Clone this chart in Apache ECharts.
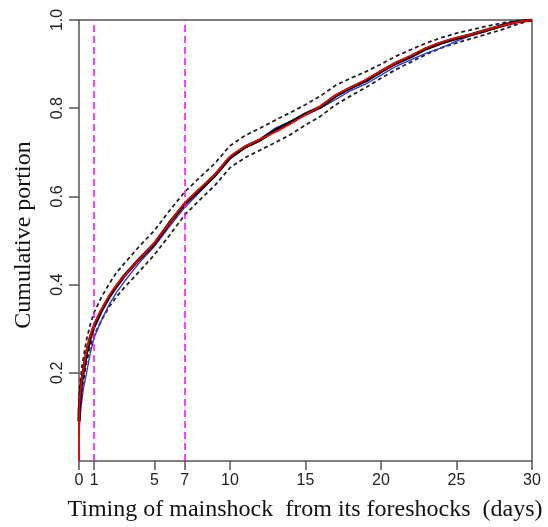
<!DOCTYPE html>
<html>
<head>
<meta charset="utf-8">
<script src="https://cdn.jsdelivr.net/npm/echarts@6/dist/echarts.min.js"></script>
<style>html,body{margin:0;padding:0;background:#fff}#c{width:548px;height:527px}</style>
</head>
<body>
<div id="c"></div>
<script>
// Data
var days = [0, 0.02, 0.05, 0.1, 0.2, 0.3, 0.5, 0.75, 1, 1.5, 2, 2.5,
  3, 4, 5, 6, 7, 8, 9, 10, 11, 12, 13, 14, 15, 16, 17, 18, 19, 20, 21, 22, 23, 24, 25, 26, 27, 28, 29, 30];
var fitted = [0, 0.12, 0.14, 0.16, 0.19, 0.21, 0.25, 0.285, 0.31, 0.345, 0.375, 0.40,
  0.42, 0.458, 0.495, 0.54, 0.585, 0.618, 0.65, 0.69, 0.713, 0.73, 0.746, 0.765, 0.785, 0.805, 0.83, 0.848, 0.865, 0.885, 0.904, 0.92, 0.937, 0.95, 0.96, 0.968, 0.978, 0.987, 0.995, 1.0];
var empirical = [0.09, 0.12, 0.13, 0.155, 0.185, 0.205, 0.245, 0.28, 0.305, 0.342, 0.372, 0.397,
  0.42, 0.458, 0.493, 0.54, 0.583, 0.615, 0.648, 0.688, 0.712, 0.728, 0.75, 0.768, 0.787, 0.803, 0.828, 0.846, 0.862, 0.883, 0.902, 0.917, 0.935, 0.948, 0.958, 0.967, 0.977, 0.987, 0.996, 1.0];
var simulated = [0.07, 0.08, 0.09, 0.11, 0.14, 0.165, 0.2, 0.245, 0.28, 0.32, 0.355, 0.383,
  0.407, 0.45, 0.487, 0.532, 0.575, 0.61, 0.645, 0.685, 0.71, 0.73, 0.755, 0.77, 0.785, 0.80, 0.82, 0.84, 0.855, 0.875, 0.895, 0.91, 0.925, 0.937, 0.952, 0.965, 0.975, 0.99, 0.997, 1.0];
var upperBand = [0.1, 0.14, 0.165, 0.185, 0.215, 0.235, 0.275, 0.31, 0.337, 0.372, 0.402, 0.428,
  0.448, 0.487, 0.523, 0.568, 0.61, 0.643, 0.675, 0.715, 0.738, 0.755, 0.773, 0.79, 0.808, 0.828, 0.852, 0.868, 0.883, 0.9, 0.918, 0.933, 0.948, 0.96, 0.97, 0.978, 0.986, 0.993, 0.998, 1.0];
var lowerBand = [0.06, 0.1, 0.115, 0.135, 0.165, 0.185, 0.225, 0.26, 0.285, 0.32, 0.35, 0.373,
  0.393, 0.43, 0.468, 0.512, 0.558, 0.592, 0.625, 0.665, 0.688, 0.705, 0.722, 0.74, 0.762, 0.782, 0.808, 0.828, 0.847, 0.868, 0.888, 0.905, 0.922, 0.937, 0.948, 0.958, 0.968, 0.978, 0.99, 1.0];
var xTicks = [0, 1, 5, 7, 10, 15, 20, 25, 30];
var yTicks = [0.2, 0.4, 0.6, 0.8, 1.0];
var markedDays = [1, 7];
var xTitle = 'Timing of mainshock  from its foreshocks  (days)';
var yTitle = 'Cumulative portion';

function pairs(arr) { return days.map(function (d, i) { return [d, arr[i]]; }); }

var chart = echarts.init(document.getElementById('c'), null, {renderer: 'canvas'});
var axisColor = '#555';
var labelFont = {fontFamily: 'Liberation Sans', fontSize: 16, color: '#222'};
chart.setOption({
  animation: false,
  backgroundColor: '#fff',
  grid: {left: 79, right: 16, top: 20, bottom: 66, show: true, borderColor: axisColor, borderWidth: 1.5, backgroundColor: 'transparent'},
  xAxis: {
    type: 'value', min: 0, max: 30,
    splitLine: {show: false},
    axisLine: {show: false},
    axisTick: {show: true, length: 9, lineStyle: {color: axisColor, width: 1.5}, customValues: xTicks},
    axisLabel: Object.assign({margin: 12, customValues: xTicks, formatter: function (v) { return String(v); }}, labelFont)
  },
  yAxis: {
    type: 'value', min: 0, max: 1,
    splitLine: {show: false},
    axisLine: {show: false},
    axisTick: {show: true, length: 10, lineStyle: {color: axisColor, width: 1.5}, customValues: yTicks},
    axisLabel: Object.assign({margin: 13, rotate: 90, customValues: yTicks, formatter: function (v) { return v.toFixed(1); }}, labelFont)
  },
  graphic: [
    {type: 'text', x: 305, y: 510, style: {text: xTitle, font: '24px "Liberation Serif"', fill: '#111', align: 'center', verticalAlign: 'middle'}},
    {type: 'text', x: 24, y: 235, rotation: Math.PI / 2, style: {text: yTitle, font: '24px "Liberation Serif"', fill: '#111', align: 'center', verticalAlign: 'middle'}}
  ],
  series: [
    {type: 'line', data: pairs(upperBand), showSymbol: false, lineStyle: {color: '#222', width: 1.8, type: [4, 3]}, z: 2},
    {type: 'line', data: pairs(lowerBand), showSymbol: false, lineStyle: {color: '#222', width: 1.8, type: [4, 3]}, z: 2},
    {type: 'line', data: pairs(simulated), showSymbol: false, lineStyle: {color: '#2233ee', width: 1.3}, z: 3},
    {type: 'line', data: pairs(empirical), showSymbol: false, lineStyle: {color: '#000', width: 3.2}, z: 4},
    {type: 'line', data: pairs(fitted), showSymbol: false, smooth: 0.2, lineStyle: {color: '#ee0000', width: 1.8}, z: 5,
      markLine: {silent: true, symbol: 'none', label: {show: false},
        lineStyle: {color: '#ff00ff', width: 1.5, type: [7, 4]},
        data: markedDays.map(function (d) { return {xAxis: d}; })}}
  ]
});
</script>
</body>
</html>
